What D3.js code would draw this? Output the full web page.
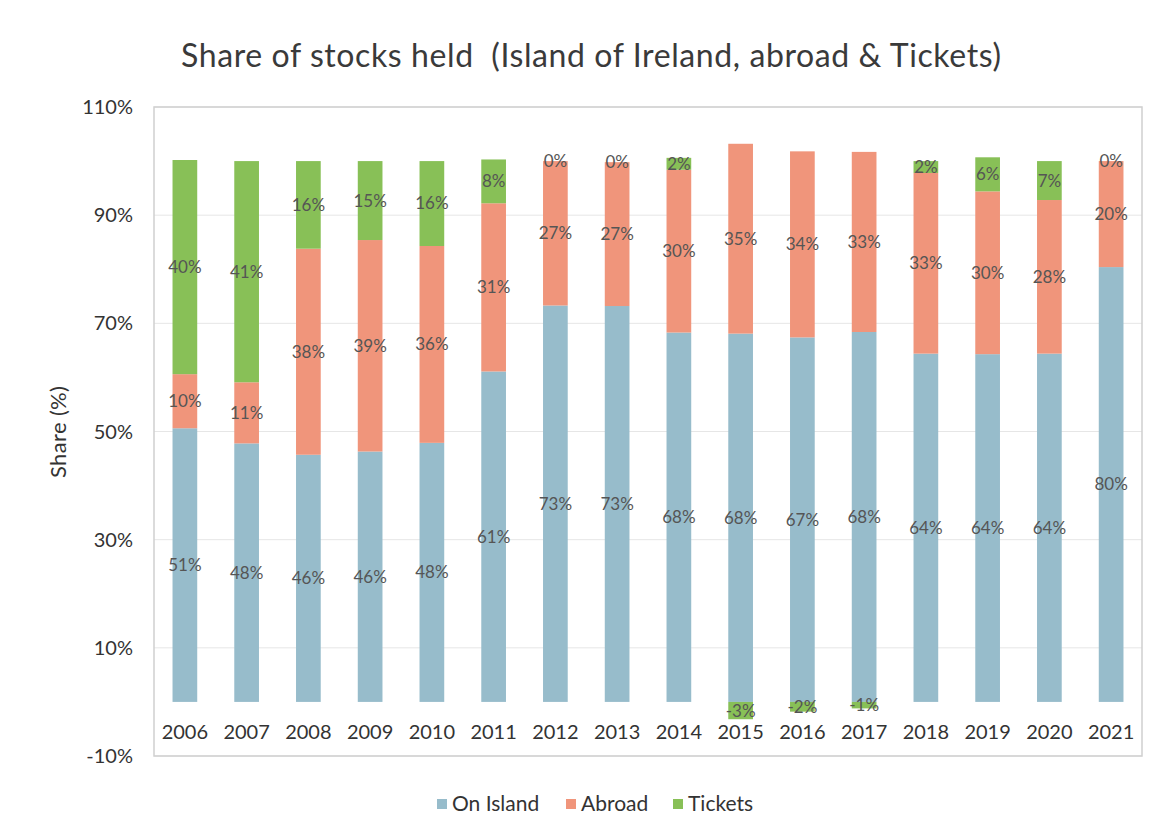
<!DOCTYPE html>
<html>
<head>
<meta charset="utf-8">
<script src="https://cdn.jsdelivr.net/npm/d3@7"></script>
<style>
  body { margin: 0; background: #fff; }
  text { font-family: Lato, "Open Sans", sans-serif; }
</style>
</head>
<body>
<script>
const years = ['2006', '2007', '2008', '2009', '2010', '2011', '2012', '2013',
    '2014', '2015', '2016', '2017', '2018', '2019', '2020', '2021'];
const onIsland = [50.6, 47.8, 45.7, 46.3, 47.9, 61.1, 73.3, 73.2, 68.3, 68.1, 67.4, 68.4, 64.4, 64.3, 64.4, 80.4];
const abroad =   [10.0, 11.3, 38.1, 39.1, 36.4, 31.1, 26.7, 26.6, 30.1, 35.1, 34.4, 33.3, 33.4, 30.1, 28.4, 19.6];
const tickets =  [39.6, 40.9, 16.2, 14.6, 15.7,  8.1,  0.0,  0.0,  2.2, -3.2, -1.8, -1.2,  2.2,  6.3,  7.2,  0.0];
const seriesNames = ['On Island', 'Abroad', 'Tickets'];
const yTicks = [-10, 10, 30, 50, 70, 90, 110];

const colors = { 'On Island': '#97bccb', 'Abroad': '#f0957b', 'Tickets': '#88c057' };

const width = 1158, height = 836;
const plot = { left: 154, right: 1142, top: 107, bottom: 756 };

const rows = years.map((y, i) => ({
    year: y, 'On Island': onIsland[i], 'Abroad': abroad[i], 'Tickets': tickets[i]
}));

const svg = d3.select("body").append("svg")
    .attr("width", width)
    .attr("height", height);

const x = d3.scaleBand()
    .domain(years)
    .range([plot.left, plot.right])
    .paddingInner(0.6)
    .paddingOuter(0.3);

const y = d3.scaleLinear()
    .domain([-10, 110])
    .range([plot.bottom, plot.top]);

// gridlines
svg.append("g")
    .selectAll("line")
    .data(yTicks)
    .enter().append("line")
    .attr("x1", plot.left)
    .attr("x2", plot.right)
    .attr("y1", d => y(d))
    .attr("y2", d => y(d))
    .attr("stroke", "#e6e6e6")
    .attr("stroke-width", 1);

// plot border
svg.append("rect")
    .attr("x", plot.left)
    .attr("y", plot.top)
    .attr("width", plot.right - plot.left)
    .attr("height", plot.bottom - plot.top)
    .attr("fill", "none")
    .attr("stroke", "#cfcfcf")
    .attr("stroke-width", 1.5);

// stacked bars
const stacked = d3.stack()
    .keys(seriesNames)
    .offset(d3.stackOffsetDiverging)(rows);

const groups = svg.append("g")
    .selectAll("g")
    .data(stacked)
    .enter().append("g")
    .attr("fill", d => colors[d.key]);

groups.selectAll("rect")
    .data(d => d)
    .enter().append("rect")
    .attr("x", d => x(d.data.year))
    .attr("width", x.bandwidth())
    .attr("y", d => y(Math.max(d[0], d[1])))
    .attr("height", d => Math.abs(y(d[0]) - y(d[1])));

// data labels
const fmt = v => Math.round(v) + "%";
const posTotal = rows.map(r => seriesNames.reduce((s, k) => s + Math.max(0, r[k]), 0));

const labels = svg.append("g");
stacked.forEach(s => {
    s.forEach((d, i) => {
        const v = d.data[s.key];
        let cy;
        if (v === 0) cy = y(posTotal[i]);
        else cy = y((d[0] + d[1]) / 2);
        labels.append("text")
            .attr("x", x(d.data.year) + x.bandwidth() / 2)
            .attr("y", cy)
            .attr("dy", "0.35em")
            .attr("text-anchor", "middle")
            .attr("font-size", 17)
            .attr("fill", "#555")
            .text(fmt(v));
    });
});

// x labels
svg.append("g")
    .selectAll("text")
    .data(years)
    .enter().append("text")
    .attr("x", d => x(d) + x.bandwidth() / 2)
    .attr("y", 732)
    .attr("dy", "0.35em")
    .attr("text-anchor", "middle")
    .attr("font-size", 20)
    .attr("fill", "#333")
    .text(d => d);

// y axis labels
svg.append("g")
    .selectAll("text")
    .data(yTicks)
    .enter().append("text")
    .attr("x", 133)
    .attr("y", d => y(d))
    .attr("dy", "0.35em")
    .attr("text-anchor", "end")
    .attr("font-size", 20)
    .attr("fill", "#333")
    .text(d => d + "%");

// axis title
svg.append("text")
    .attr("transform", "translate(66,432) rotate(-90)")
    .attr("text-anchor", "middle")
    .attr("font-size", 22)
    .attr("fill", "#333")
    .attr("textLength", 92)
    .attr("lengthAdjust", "spacing")
    .text("Share (%)");

// chart title
svg.append("text")
    .attr("x", 591)
    .attr("y", 56)
    .attr("dy", "0.35em")
    .attr("text-anchor", "middle")
    .attr("font-size", 32)
    .attr("fill", "#3a3a3a")
    .attr("textLength", 820)
    .attr("lengthAdjust", "spacing")
    .style("white-space", "pre")
    .text("Share of stocks held  (Island of Ireland, abroad & Tickets)");

// legend
const legendX = [437, 566, 673];
const legend = svg.append("g");
seriesNames.forEach((name, i) => {
    legend.append("rect")
        .attr("x", legendX[i])
        .attr("y", 799)
        .attr("width", 10)
        .attr("height", 10)
        .attr("fill", colors[name]);
    legend.append("text")
        .attr("x", legendX[i] + 15)
        .attr("y", 804)
        .attr("dy", "0.35em")
        .attr("font-size", 21)
        .attr("fill", "#333")
        .text(name);
});
</script>
</body>
</html>
